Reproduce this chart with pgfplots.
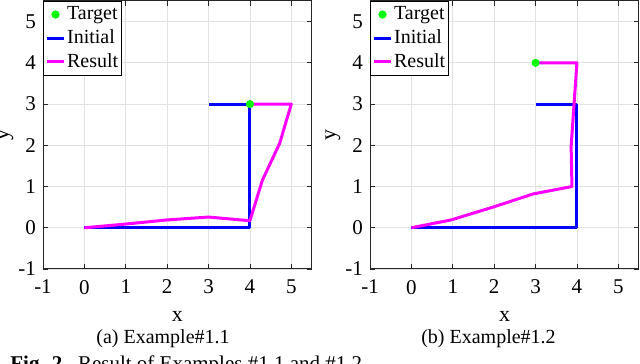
\documentclass[border=0pt]{standalone}
\usepackage{pgfplots}
\pgfplotsset{compat=1.18}
\usepackage{fontspec}
\setmainfont{Liberation Serif}
\definecolor{tgtgreen}{RGB}{0,255,0}
\definecolor{initblue}{RGB}{0,0,255}
\definecolor{resmag}{RGB}{255,0,255}
\definecolor{axgray}{RGB}{38,38,38}
\definecolor{gridgray}{RGB}{226,226,226}

\pgfplotsset{
  matlab/.style={
    width=134.5pt,height=134pt,scale only axis,
    xmin=-1,xmax=5.5,ymin=-1,ymax=5.5,
    xtick={-1,...,5},ytick={-1,...,5},
    grid=major,grid style={gridgray,line width=0.4pt},
    axis line style={axgray,line width=0.5pt},
    tick style={axgray,line width=0.4pt},
    tick align=inside,major tick length=2.5pt,
    ticklabel style={font=\fontsize{10.5}{12}\selectfont},
    xticklabel style={yshift=-2pt},
    /pgf/number format/assume math mode=true,
    xlabel={x},ylabel={y},
    label style={font=\fontsize{11}{13}\selectfont},
    xlabel style={at={(axis description cs:0.5,-0.178)},anchor=center},
    ylabel style={at={(axis description cs:-0.138,0.5)},anchor=center},
    legend style={at={(0,1)},anchor=north west,draw=black,line width=0.5pt,
      font=\fontsize{10}{11}\selectfont,inner sep=1pt,row sep=0.5pt,
      nodes={inner xsep=0.8pt,inner ysep=1.5pt}},
    legend cell align=left,
    legend image code/.code={\draw[#1] (0pt,0pt) -- (8.5pt,0pt);},
    every axis plot/.append style={line join=round},
  },
  targetpt/.style={only marks,mark=*,mark size=1.8pt,color=tgtgreen,
    mark options={draw=tgtgreen,fill=tgtgreen},
    legend image code/.code={\draw[##1] plot coordinates {(4.25pt,0pt)};}},
  initpath/.style={color=initblue,line width=1.5pt},
  resultpath/.style={color=resmag,line width=1.5pt},
}

\begin{document}
\begin{tikzpicture}
\begin{axis}[matlab,at={(21.5pt,-0.5pt)},anchor=north west]
\addplot[targetpt] coordinates {(4,3)};
\addplot[initpath] coordinates {(0,0) (4,0) (4,3) (3,3)};
\addplot[resultpath] coordinates {(0,0) (1,0.09) (2,0.19) (3,0.26) (4,0.17) (4.3,1.15) (4.72,2.05) (5,3) (4,3)};
\legend{Target,Initial,Result}
\end{axis}
\begin{axis}[matlab,at={(185pt,-0.5pt)},anchor=north west]
\addplot[targetpt] coordinates {(3,4)};
\addplot[initpath] coordinates {(0,0) (4,0) (4,3) (3,3)};
\addplot[resultpath] coordinates {(0,0) (0.96,0.19) (1.97,0.5) (2.94,0.82) (3.88,1.0) (3.86,1.97) (4,4) (3,4)};
\legend{Target,Initial,Result}
\end{axis}
\node[anchor=base,font=\fontsize{10}{12}\selectfont] at (81.5pt,-171.7pt) {(a) Example\#1.1};
\node[anchor=base,font=\fontsize{10}{12}\selectfont] at (244.25pt,-171.7pt) {(b) Example\#1.2};
\node[anchor=base west,font=\fontsize{10.5}{12}\selectfont,inner sep=0pt] at (5pt,-185pt) {\textbf{Fig. 2.}\ \ Result of Examples \#1.1 and \#1.2};
\pgfresetboundingbox
\useasboundingbox (0,0) rectangle (320pt,-181.5pt);
\end{tikzpicture}
\end{document}
